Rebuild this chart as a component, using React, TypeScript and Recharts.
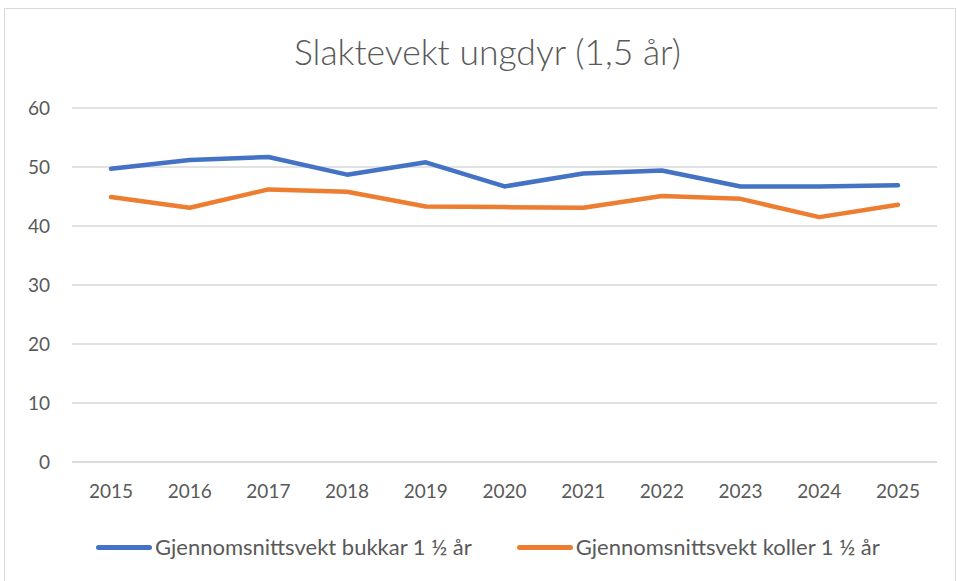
import { CartesianGrid, Line, LineChart, XAxis, YAxis } from "recharts"

// Verdier lest av figuren
const years = ["2015", "2016", "2017", "2018", "2019", "2020", "2021", "2022", "2023", "2024", "2025"]
const bukkar = [49.7, 51.2, 51.7, 48.7, 50.8, 46.7, 48.9, 49.4, 46.7, 46.7, 46.9]
const koller = [44.9, 43.1, 46.2, 45.8, 43.3, 43.2, 43.1, 45.1, 44.6, 41.5, 43.6]
const yTicks = [0, 10, 20, 30, 40, 50, 60]

const data = years.map((year, i) => ({ year, bukkar: bukkar[i], koller: koller[i] }))

const series = [
    { key: "bukkar", name: "Gjennomsnittsvekt bukkar 1 ½ år", color: "#4472C4" },
    { key: "koller", name: "Gjennomsnittsvekt koller 1 ½ år", color: "#ED7D31" },
]

const FONT = "Lato, 'Open Sans', sans-serif"
const TEXT = "#595959"
const GRID = "#d9d9d9"

export default function App() {
    return (
        <div style={{ position: "absolute", left: 0, top: 0, width: 957, height: 581, background: "#fff", overflow: "hidden" }}>
            <div style={{ position: "absolute", left: 4, top: 8, width: 950, height: 580, border: `1px solid ${GRID}` }} />
            <div style={{ position: "absolute", left: 0, top: 30, width: 975, textAlign: "center", fontFamily: FONT, fontWeight: 300, fontSize: 35.5, color: TEXT }}>
                Slaktevekt ungdyr (1,5 år)
            </div>
            <div style={{ position: "absolute", left: 0, top: 0 }}>
                <LineChart width={957} height={581} data={data} margin={{ top: 108, right: 20, bottom: 89, left: 0 }}>
                    <CartesianGrid horizontal={true} vertical={false} stroke={GRID} strokeWidth={1.3} />
                    <XAxis
                        dataKey="year"
                        height={30}
                        padding={{ left: 39, right: 39 }}
                        axisLine={{ stroke: GRID, strokeWidth: 1.3 }}
                        tickLine={false}
                        tickMargin={17}
                        tick={{ fill: TEXT, fontSize: 19, fontFamily: FONT }}
                    />
                    <YAxis
                        width={72}
                        domain={[0, 60]}
                        ticks={yTicks}
                        axisLine={false}
                        tickLine={false}
                        tickMargin={16}
                        tick={{ fill: TEXT, fontSize: 19, fontFamily: FONT }}
                    />
                    {series.map((s) => (
                        <Line
                            key={s.key}
                            type="linear"
                            dataKey={s.key}
                            name={s.name}
                            stroke={s.color}
                            strokeWidth={4.5}
                            strokeLinecap="round"
                            strokeLinejoin="round"
                            dot={false}
                            isAnimationActive={false}
                        />
                    ))}
                </LineChart>
            </div>
            <div style={{ position: "absolute", left: 96, top: 534, display: "flex", fontFamily: FONT, fontSize: 22, color: TEXT, lineHeight: "26px" }}>
                {series.map((s, i) => (
                    <div key={s.key} style={{ display: "flex", alignItems: "center", marginLeft: i === 0 ? 0 : 45 }}>
                        <span style={{ display: "inline-block", width: 56, height: 5, borderRadius: 3, background: s.color, marginRight: 3 }} />
                        <span>{s.name}</span>
                    </div>
                ))}
            </div>
        </div>
    )
}
